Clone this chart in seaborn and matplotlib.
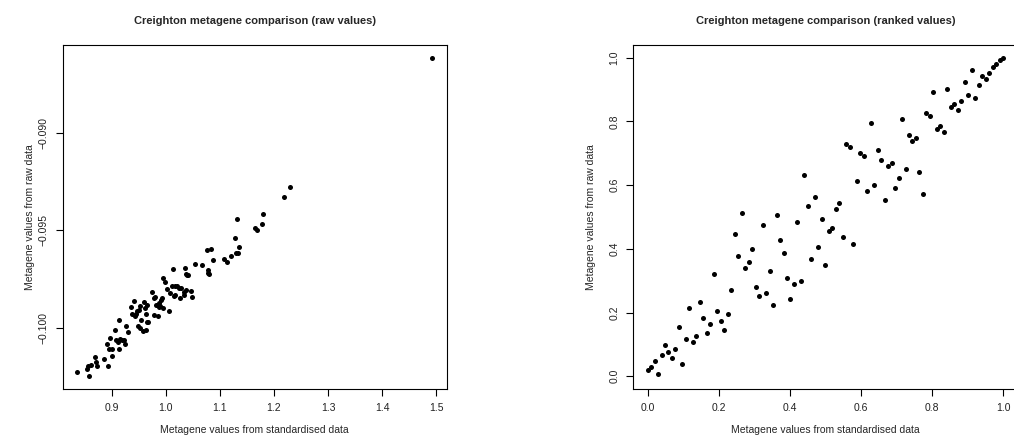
import numpy as np
import pandas as pd
import matplotlib
matplotlib.use("Agg")
import matplotlib.pyplot as plt
import seaborn as sns

# raw metagene values (standardised vs raw)
raw_x = [0.836, 0.855, 0.857, 0.859, 0.863, 0.870, 0.872, 0.874, 0.886, 0.892,
         0.894, 0.895, 0.898, 0.900, 0.901, 0.907, 0.909, 0.912, 0.913, 0.914,
         0.916, 0.919, 0.923, 0.924, 0.926, 0.936, 0.938, 0.942, 0.944, 0.946,
         0.948, 0.949, 0.952, 0.953, 0.955, 0.958, 0.960, 0.962, 0.963, 0.964,
         0.965, 0.966, 0.968, 0.975, 0.978, 0.979, 0.981, 0.983, 0.985, 0.987,
         0.990, 0.992, 0.994, 0.996, 0.996, 0.999, 1.007, 1.008, 1.011, 1.014,
         1.016, 1.017, 1.018, 1.021, 1.024, 1.026, 1.029, 1.034, 1.034, 1.035,
         1.037, 1.037, 1.040, 1.042, 1.047, 1.048, 1.054, 1.067, 1.076, 1.078,
         1.078, 1.080, 1.083, 1.087, 1.107, 1.113, 1.120, 1.128, 1.130, 1.131,
         1.133, 1.135, 1.165, 1.168, 1.178, 1.179, 1.219, 1.229, 1.493,
         0.950, 0.988, 1.003, 0.930]
raw_y = [-0.10225, -0.10208, -0.10196, -0.10246, -0.10186, -0.10145, -0.10171, -0.10191, -0.10157, -0.10080,
         -0.10195, -0.10108, -0.10048, -0.10108, -0.10140, -0.10010, -0.10063, -0.10072, -0.10106, -0.09956,
         -0.10053, -0.10063, -0.10060, -0.10080, -0.09991, -0.09892, -0.09927, -0.09863, -0.09939, -0.09927,
         -0.09913, -0.09990, -0.10000, -0.09884, -0.09956, -0.10014, -0.09867, -0.09899, -0.09925, -0.10010,
         -0.09966, -0.09882, -0.09966, -0.09814, -0.09848, -0.09930, -0.09841, -0.09882, -0.09939, -0.09894,
         -0.09887, -0.09858, -0.09846, -0.09896, -0.09744, -0.09766, -0.09910, -0.09821, -0.09782, -0.09698,
         -0.09836, -0.09782, -0.09831, -0.09782, -0.09794, -0.09843, -0.09795, -0.09831, -0.09816, -0.09693,
         -0.09807, -0.09724, -0.09729, -0.09729, -0.09811, -0.09838, -0.09672, -0.09679, -0.09602, -0.09701,
         -0.09717, -0.09722, -0.09594, -0.09650, -0.09647, -0.09659, -0.09630, -0.09536, -0.09614, -0.09442,
         -0.09616, -0.09584, -0.09486, -0.09495, -0.09468, -0.09418, -0.09331, -0.09280, -0.08616,
         -0.09905, -0.09870, -0.09800, -0.10020]

# ranked values
rank_x = list(np.arange(103) / 102)
rank_y = [0.019, 0.029, 0.049, 0.008, 0.067, 0.097, 0.077, 0.057, 0.086, 0.155,
          0.038, 0.116, 0.213, 0.106, 0.126, 0.233, 0.184, 0.136, 0.165, 0.320,
          0.204, 0.174, 0.145, 0.194, 0.271, 0.447, 0.378, 0.514, 0.340, 0.359,
          0.398, 0.281, 0.252, 0.476, 0.262, 0.330, 0.223, 0.505, 0.427, 0.387,
          0.310, 0.242, 0.291, 0.485, 0.300, 0.631, 0.534, 0.369, 0.563, 0.407,
          0.494, 0.349, 0.456, 0.465, 0.524, 0.543, 0.436, 0.728, 0.719, 0.416,
          0.612, 0.700, 0.690, 0.583, 0.796, 0.602, 0.709, 0.680, 0.553, 0.660,
          0.670, 0.592, 0.621, 0.807, 0.651, 0.758, 0.738, 0.748, 0.641, 0.573,
          0.826, 0.816, 0.894, 0.777, 0.787, 0.767, 0.903, 0.845, 0.855, 0.836,
          0.865, 0.923, 0.884, 0.963, 0.874, 0.914, 0.943, 0.933, 0.952, 0.972,
          0.981, 0.992, 1.000]

sns.set_theme(style="white")
plt.rcParams['font.family'] = ['Liberation Sans', 'DejaVu Sans']

fig = plt.figure(figsize=(10.14, 4.43), dpi=100)
ax1 = fig.add_axes([0.0618, 0.1219, 0.3787, 0.7765])
ax2 = fig.add_axes([0.6246, 0.1219, 0.3787, 0.7765])


def r_limits(v):
    # R style 4% padding
    lo, hi = min(v), max(v)
    pad = (hi - lo) * 0.04
    return lo - pad, hi + pad


def style(ax, title, xticks, yticks, xfmt, yfmt, ylabpad):
    ax.set_title(title, fontsize=8, fontweight='bold', pad=15)
    ax.set_xlabel("Metagene values from standardised data", fontsize=7.5, labelpad=9)
    ax.set_ylabel("Metagene values from raw data", fontsize=7.5, labelpad=ylabpad)
    ax.set_xticks(xticks)
    ax.set_yticks(yticks)
    ax.set_xticklabels([xfmt % t for t in xticks])
    ax.set_yticklabels([(yfmt % t).replace('-', '\u2212') for t in yticks],
                       rotation=90, va='center')
    ax.tick_params(axis='both', direction='out', length=5, width=0.8, color='black',
                   labelsize=7.5, pad=5, bottom=True, left=True, labelcolor='#222222')
    for s in ax.spines.values():
        s.set_visible(True)
        s.set_color('black')
        s.set_linewidth(0.8)


df1 = pd.DataFrame({'x': raw_x, 'y': raw_y})
sns.scatterplot(data=df1, x='x', y='y', ax=ax1, color='black', s=13, linewidth=0)
ax1.set_xlim(*r_limits(raw_x))
ax1.set_ylim(*r_limits(raw_y))
style(ax1, "Creighton metagene comparison (raw values)",
      [0.9, 1.0, 1.1, 1.2, 1.3, 1.4, 1.5], [-0.100, -0.095, -0.090], '%.1f', '%.3f', 3)

df2 = pd.DataFrame({'x': rank_x, 'y': rank_y})
sns.scatterplot(data=df2, x='x', y='y', ax=ax2, color='black', s=13, linewidth=0)
ax2.set_xlim(-0.04, 1.04)
ax2.set_ylim(-0.04, 1.04)
style(ax2, "Creighton metagene comparison (ranked values)",
      [0.0, 0.2, 0.4, 0.6, 0.8, 1.0], [0.0, 0.2, 0.4, 0.6, 0.8, 1.0], '%.1f', '%.1f', 10)

fig.savefig("out.png", dpi=100, facecolor='white')
